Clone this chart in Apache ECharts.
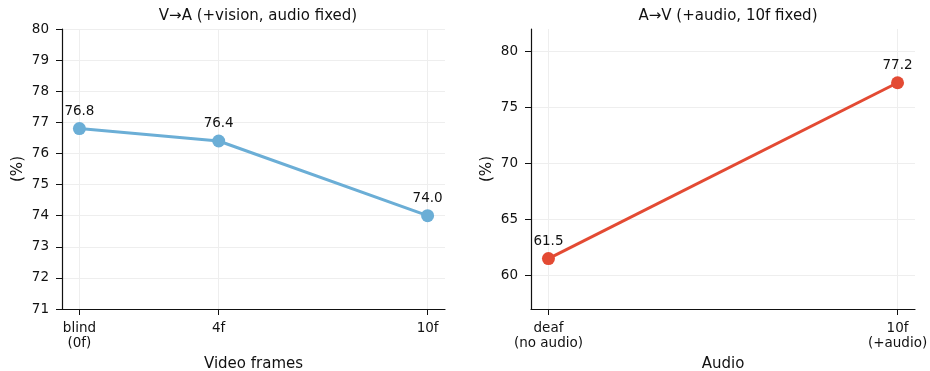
<!DOCTYPE html>
<html><head><meta charset="utf-8">
<script src="https://cdn.jsdelivr.net/npm/echarts@6/dist/echarts.min.js"></script>
<style>html,body{margin:0;padding:0;background:#fff}#c{width:930px;height:371px}</style>
</head><body><div id="c"></div>
<script>
// Left panel: V→A
const leftX = [0, 4, 10];
const leftLabels = ['blind\n(0f)', '4f', '10f'];
const leftValues = [76.8, 76.4, 74.0];
const leftYTicks = [71, 72, 73, 74, 75, 76, 77, 78, 79, 80];
// Right panel: A→V
const rightX = [0, 1];
const rightLabels = ['deaf\n(no audio)', '10f\n(+audio)'];
const rightValues = [61.5, 77.2];
const rightYTicks = [60, 65, 70, 75, 80];

const FONT = 'DejaVu Sans';
const INK = '#111';
const chart = echarts.init(document.getElementById('c'), null, {renderer: 'canvas'});
const txt = {fontFamily: FONT, color: INK, fontSize: 13.5};
function xAxis(idx, xs, labels, min, max, name) {
  const map = {}; xs.forEach((v, i) => map[v] = labels[i]);
  return {
    type: 'value', gridIndex: idx, min, max, name, nameLocation: 'middle', nameGap: 48,
    nameTextStyle: {fontFamily: FONT, fontSize: 15, color: INK},
    axisLine: {show: true, onZero: false, lineStyle: {color: INK, width: 1.2}},
    axisTick: {show: true, length: 6, lineStyle: {color: INK}, customValues: xs},
    axisLabel: Object.assign({}, txt, {customValues: xs, formatter: v => map[v] ?? '', margin: 12, lineHeight: 15}),
    splitLine: {show: true, lineStyle: {color: '#eeeeee', width: 1}, customValues: xs}
  };
}
function yAxis(idx, ticks, min, max) {
  return {
    type: 'value', gridIndex: idx, min, max, name: '(%)', nameLocation: 'middle', nameGap: 36,
    nameTextStyle: {fontFamily: FONT, fontSize: 15, color: INK},
    axisLine: {show: true, onZero: false, lineStyle: {color: INK, width: 1.2}},
    axisTick: {show: true, length: 6, lineStyle: {color: INK}, customValues: ticks},
    axisLabel: Object.assign({}, txt, {customValues: ticks, margin: 13}),
    splitLine: {show: true, lineStyle: {color: '#eeeeee', width: 1}, customValues: ticks}
  };
}
function series(idx, xs, vals, color) {
  return {
    type: 'line', xAxisIndex: idx, yAxisIndex: idx,
    data: xs.map((x, i) => [x, vals[i]]),
    symbol: 'circle', symbolSize: 13,
    lineStyle: {color, width: 3}, itemStyle: {color},
    label: {show: true, position: 'top', distance: 4, formatter: p => p.value[1].toFixed(1), fontFamily: FONT, fontSize: 13.5, color: INK},
    emphasis: {disabled: true}, animation: false
  };
}
chart.setOption({
  animation: false,
  title: [
    {text: 'V→A (+vision, audio fixed)', left: 253, top: 4, textAlign: 'center', textStyle: {fontFamily: FONT, fontSize: 15, fontWeight: 'normal', color: INK}},
    {text: 'A→V (+audio, 10f fixed)', left: 723, top: 4, textAlign: 'center', textStyle: {fontFamily: FONT, fontSize: 15, fontWeight: 'normal', color: INK}}
  ],
  grid: [
    {left: 62, right: 485, top: 29, bottom: 62, outerBoundsMode: 'none', containLabel: false},
    {left: 531, right: 15, top: 29, bottom: 62, outerBoundsMode: 'none', containLabel: false}
  ],
  xAxis: [xAxis(0, leftX, leftLabels, -0.5, 10.5, 'Video frames'), xAxis(1, rightX, rightLabels, -0.05, 1.05, 'Audio')],
  yAxis: [yAxis(0, leftYTicks, 71, 80), yAxis(1, rightYTicks, 57, 82)],
  series: [series(0, leftX, leftValues, '#6baed6'), series(1, rightX, rightValues, '#e34a33')]
});
</script></body></html>
